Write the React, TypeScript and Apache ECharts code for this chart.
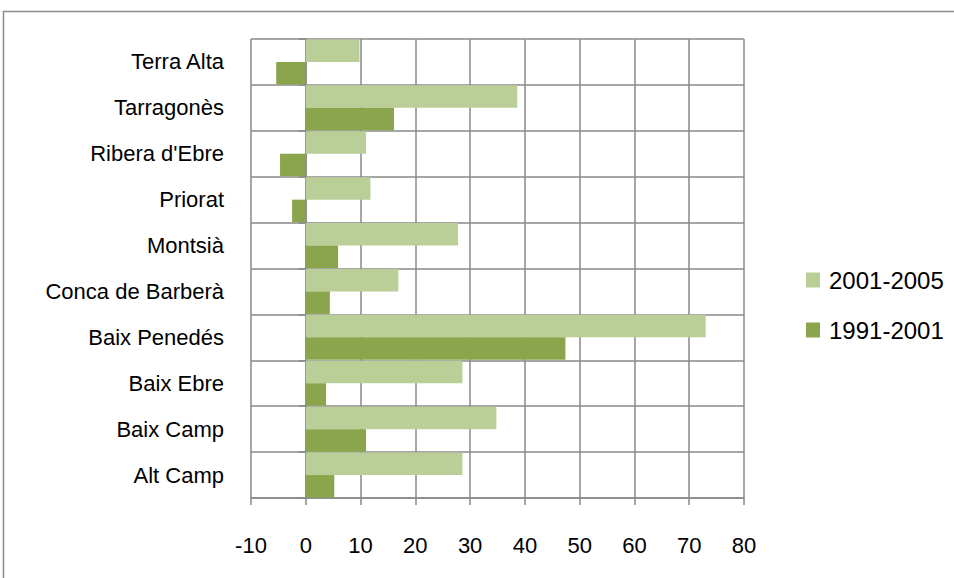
import React, { useEffect, useRef } from "react";
import * as echarts from "echarts";

const categories = [
  "Alt Camp",
  "Baix Camp",
  "Baix Ebre",
  "Baix Penedés",
  "Conca de Barberà",
  "Montsià",
  "Priorat",
  "Ribera d'Ebre",
  "Tarragonès",
  "Terra Alta",
];
const series1991_2001 = [5.2, 11.0, 3.7, 47.4, 4.4, 5.9, -2.5, -4.7, 16.1, -5.4];
const series2001_2005 = [28.6, 34.8, 28.6, 73.0, 16.9, 27.8, 11.8, 11.0, 38.6, 9.8];
const seriesNames = ["2001-2005", "1991-2001"];

const FONT = "Liberation Sans, Arial, sans-serif";
const GRID = "#898989";

export default function App() {
  const ref = useRef<HTMLDivElement>(null);
  useEffect(() => {
    if (!ref.current) return;
    const chart = echarts.init(ref.current, undefined, { renderer: "svg" });
    chart.setOption({
      animation: false,
      backgroundColor: "#ffffff",
      textStyle: { fontFamily: FONT },
      graphic: [
        {
          type: "rect",
          shape: { x: 3.5, y: 11.5, width: 1000, height: 1000 },
          style: { fill: "none", stroke: "#8c8c8c", lineWidth: 1.5 },
          silent: true,
        },
      ],
      legend: {
        orient: "vertical",
        left: 801,
        top: 263,
        data: seriesNames,
        itemWidth: 14,
        itemHeight: 15,
        itemGap: 26,
        icon: "rect",
        textStyle: {
          fontFamily: FONT,
          fontSize: 24,
          color: "#000",
          lineHeight: 22,
          padding: [0, 0, 0, 4],
        },
      },
      grid: { left: 251, top: 39, right: 210, bottom: 80, containLabel: false },
      xAxis: {
        type: "value",
        min: -10,
        max: 80,
        interval: 10,
        axisLine: { show: true, onZero: false, lineStyle: { color: GRID, width: 1.5 } },
        axisTick: { show: true, length: 7, lineStyle: { color: GRID, width: 1.5 } },
        splitLine: { show: true, lineStyle: { color: GRID, width: 1.5 } },
        axisLabel: { fontFamily: FONT, fontSize: 22, color: "#000", margin: 36 },
      },
      yAxis: [
        {
          type: "category",
          data: categories,
          boundaryGap: true,
          axisLine: { show: false },
          axisTick: { show: false },
          splitLine: { show: true, interval: 0, lineStyle: { color: GRID, width: 1.5 } },
          axisLabel: { fontFamily: FONT, fontSize: 22, color: "#000", margin: 27, interval: 0 },
        },
        {
          type: "category",
          data: categories,
          position: "left",
          offset: -54.7,
          boundaryGap: true,
          axisLine: { show: true, onZero: false, lineStyle: { color: GRID, width: 1.5 } },
          axisTick: { show: true, length: 7, interval: 0, lineStyle: { color: GRID, width: 1.5 } },
          axisLabel: { show: false },
          splitLine: { show: false },
        },
      ],
      series: [
        {
          name: "2001-2005",
          type: "bar",
          data: series2001_2005,
          yAxisIndex: 0,
          barGap: "0%",
          barCategoryGap: "2%",
          itemStyle: { color: "#BACE97" },
        },
        {
          name: "1991-2001",
          type: "bar",
          data: series1991_2001,
          yAxisIndex: 0,
          barGap: "0%",
          barCategoryGap: "2%",
          itemStyle: { color: "#8BA54C" },
        },
      ],
    });
    return () => chart.dispose();
  }, []);
  return (
    <div
      ref={ref}
      style={{ position: "fixed", left: 0, top: 0, width: 954, height: 578 }}
    />
  );
}
